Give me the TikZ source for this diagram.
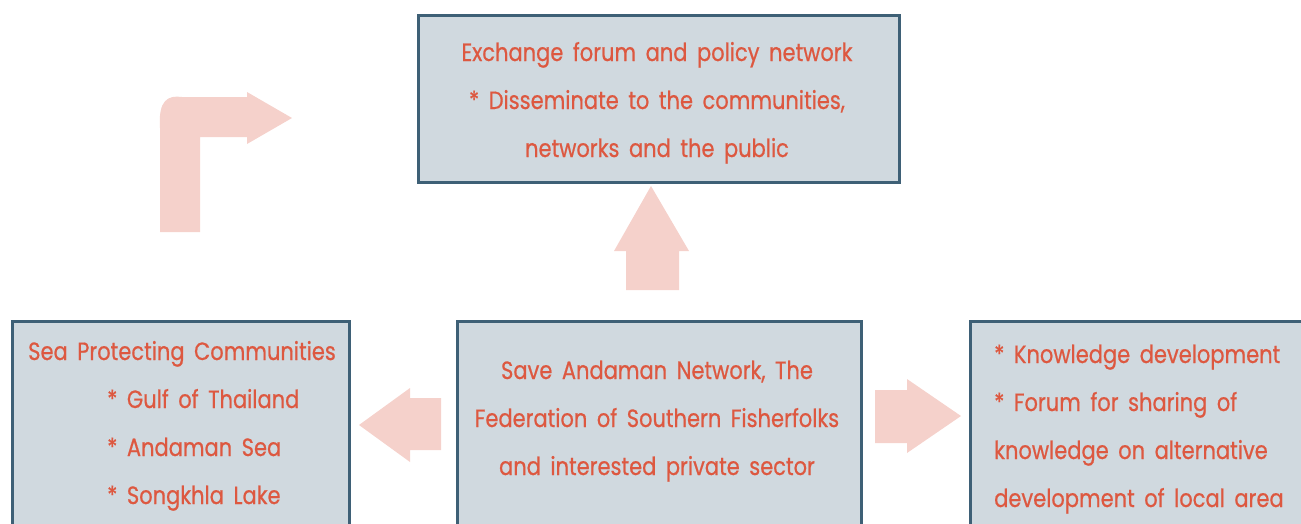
\documentclass[tikz,border=0pt]{standalone}
\usepackage{fontspec}
\setmainfont{Poppins}[FakeStretch=0.84,WordSpace=1.7,FakeBold=0.6]
\definecolor{boxfill}{HTML}{D0D9DF}
\definecolor{boxline}{HTML}{3E6076}
\definecolor{txt}{HTML}{DD5840}
\definecolor{arr}{HTML}{F5D1CB}
\tikzset{
  box/.style={draw=boxline, fill=boxfill, line width=2.5pt, anchor=north west, inner sep=0pt},
  lbl/.style={text=txt, font=\fontsize{25}{30}\selectfont, inner sep=0pt, anchor=base},
  lbll/.style={lbl, anchor=base west},
  bigarrow/.style={fill=arr, draw=none}
}
\begin{document}
\begin{tikzpicture}[x=1pt,y=-1pt]
\useasboundingbox (0,0) rectangle (1301,523);
\clip (0,0) rectangle (1301,523);
% boxes
\node[box, minimum width=481pt, minimum height=167pt] (topbox) at (417,14) {};
\node[box, minimum width=337pt, minimum height=240pt] (leftbox) at (11,320) {};
\node[box, minimum width=404pt, minimum height=240pt] (midbox) at (456,320) {};
\node[box, minimum width=360pt, minimum height=240pt] (rightbox) at (969,320) {};
% top text
\node[lbl] (t1) at (657,61) {Exchange forum and policy network};
\node[lbl] (t2) at (657,109) {* Disseminate to the communities,};
\node[lbl] (t3) at (657,157) {networks and the public};
% left text
\node[lbll] (l1) at (28,360) {Sea Protecting Communities};
\node[lbll] (l2) at (107,408) {* Gulf of Thailand};
\node[lbll] (l3) at (107,456) {* Andaman Sea};
\node[lbll] (l4) at (107,504) {* Songkhla Lake};
% middle text
\node[lbl] (m1) at (657,379) {Save Andaman Network, The};
\node[lbl] (m2) at (657,427) {Federation of Southern Fisherfolks};
\node[lbl] (m3) at (657,475) {and interested private sector};
% right text
\node[lbll] (r1) at (994,363) {* Knowledge development};
\node[lbll] (r2) at (994,411) {* Forum for sharing of};
\node[lbll] (r3) at (994,459) {knowledge on alternative};
\node[lbll] (r4) at (994,507) {development of local area};
% arrows
\fill[bigarrow] (160,232) -- (160,128) .. controls (158,100) and (168,95) .. (182,97) -- (247,97) -- (247,92) -- (292,118) -- (247,144) -- (247,137) -- (200,137) -- (200,232) -- cycle;
\fill[bigarrow] (626,290) -- (626,251) -- (614,251) -- (651,186) -- (689,251) -- (679,251) -- (679,290) -- cycle;
\fill[bigarrow] (441,398) -- (410,398) -- (410,388) -- (359,425) -- (410,462) -- (410,450) -- (441,450) -- cycle;
\fill[bigarrow] (875,390) -- (907,390) -- (907,379) -- (961,416) -- (907,453) -- (907,443) -- (875,443) -- cycle;
\end{tikzpicture}
\end{document}
